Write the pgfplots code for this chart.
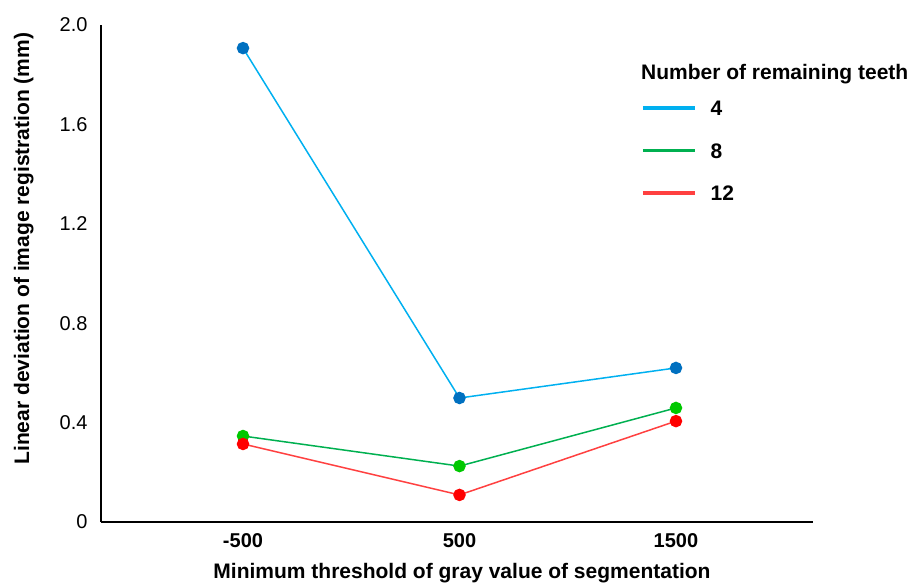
\documentclass[border=0pt]{standalone}
\usepackage{pgfplots}
\pgfplotsset{compat=1.18}
\usepackage{fontspec}
\setmainfont{Liberation Sans}
\definecolor{lblue}{HTML}{00B0F0}
\definecolor{dblue}{HTML}{0070C0}
\definecolor{lgreen}{HTML}{00B050}
\definecolor{dgreen}{HTML}{00C800}
\definecolor{lred}{HTML}{FF4040}
\definecolor{dred}{HTML}{FF0000}
\begin{document}
\begin{tikzpicture}
\begin{axis}[
  name=ax,
  scale only axis,
  width=712pt, height=497pt,
  xmin=-0.656, xmax=2.633,
  ymin=0, ymax=2.0,
  axis x line=bottom, axis y line=left,
  axis line style={-, line width=2.7pt, black},
  xtick={0,1,2}, xticklabels={-500,500,1500},
  ytick={0,0.4,0.8,1.2,1.6,2.0},
  yticklabels={0,0.4,0.8,1.2,1.6,2.0},
  major tick length=0pt,
  tick style={draw=none},
  x tick label style={font=\fontsize{20}{24}\selectfont\bfseries, yshift=-8.3pt},
  y tick label style={font=\fontsize{20}{24}\selectfont, xshift=-10pt},
  xlabel={Minimum threshold of gray value of segmentation},
  ylabel={Linear deviation of image registration (mm)},
  every axis x label/.style={at={(axis description cs:0.507,-0.1247)}, anchor=base,
     inner sep=0pt, yshift=5pt, font=\fontsize{21}{25}\selectfont\bfseries},
  every axis y label/.style={at={(axis description cs:-0.101,0.55)}, rotate=90, anchor=base,
     inner sep=0pt, font=\fontsize{21}{25}\selectfont\bfseries},
  clip=false,
  legend style={at={(axis cs:1.838,1.696)}, anchor=north west, draw=none, fill=none,
    inner sep=0pt, outer sep=0pt,
    font=\fontsize{21}{25}\selectfont\bfseries, row sep=27.5pt, column sep=14pt,
    nodes={inner sep=0pt, text height=15pt, text depth=0pt}},
  legend cell align=left,
  legend image code/.code={\draw[line width=3.8pt,#1] (0pt,0pt) -- (52pt,0pt);},
]
\addplot[color=lblue, line width=1.5pt, mark=*, mark size=5.5pt, mark options={fill=dblue, draw=dblue}]
  coordinates {(0,1.907) (1,0.499) (2,0.62)};
\addlegendentry{4}
\addplot[color=lgreen, line width=1.5pt, mark=*, mark size=5.5pt, mark options={fill=dgreen, draw=dgreen}]
  coordinates {(0,0.346) (1,0.225) (2,0.459)};
\addlegendentry{8}
\addplot[color=lred, line width=1.5pt, mark=*, mark size=5.5pt, mark options={fill=dred, draw=dred}]
  coordinates {(0,0.314) (1,0.109) (2,0.406)};
\addlegendentry{12}
\node[anchor=base west, font=\fontsize{21}{25}\selectfont\bfseries, inner sep=0pt] at (axis cs:1.838,1.781) {Number of remaining teeth};
\end{axis}
\pgfresetboundingbox
\path[use as bounding box] ([shift={(-101pt,-62pt)}]ax.south west) rectangle ([shift={(808pt,522pt)}]ax.south west);
\end{tikzpicture}
\end{document}
